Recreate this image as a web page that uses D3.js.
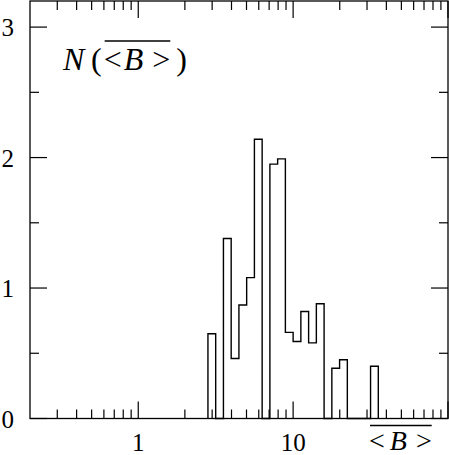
<!DOCTYPE html>
<html>
<head>
<meta charset="utf-8">
<script src="https://cdn.jsdelivr.net/npm/d3@7"></script>
<style>
  body { margin: 0; background: #fff; }
  svg text { font-family: "Liberation Serif", "DejaVu Serif", serif; fill: #000; }
</style>
</head>
<body>
<div id="chart"></div>
<script>
// histogram bins, edges in log10(<B>)
var logEdges = [0.45, 0.50, 0.55, 0.60, 0.65, 0.70, 0.75, 0.80, 0.85, 0.90, 0.95,
    1.00, 1.05, 1.10, 1.15, 1.20, 1.25, 1.30, 1.35, 1.40, 1.45, 1.50, 1.55];
var counts = [0.65, 0, 1.38, 0.46, 0.87, 1.08, 2.14, 0, 1.95, 1.99, 0.66,
    0.59, 0.82, 0.58, 0.88, 0, 0.385, 0.45, 0, 0, 0, 0.40];

var xMajor = [1, 10, 100];
var xMinor = [0.3, 0.4, 0.5, 0.6, 0.7, 0.8, 0.9, 2, 3, 4, 5, 6, 7, 8, 9,
    20, 30, 40, 50, 60, 70, 80, 90];
var xLabels = [1, 10];
var yMajor = [0, 1, 2, 3];
var yMinor = [0.5, 1.5, 2.5];

var width = 449;
var height = 455;
var mLeft = 30, mRight = 448, mTop = 1, mBottom = 418.5;
var majorLen = 17, minorLen = 9;

var svg = d3.select('#chart')
    .append('svg')
    .attr('width', width)
    .attr('height', height);

var x = d3.scaleLog()
    .domain([0.2, 100])
    .range([mLeft, mRight]);

var y = d3.scaleLinear()
    .domain([0, 3.2])
    .range([mBottom, mTop]);

// histogram outline
var pts = [[Math.pow(10, logEdges[0]), 0]];
counts.forEach(function (c, i) {
    pts.push([Math.pow(10, logEdges[i]), c]);
    pts.push([Math.pow(10, logEdges[i + 1]), c]);
});
pts.push([Math.pow(10, logEdges[logEdges.length - 1]), 0]);

var line = d3.line()
    .x(function (d) { return x(d[0]); })
    .y(function (d) { return y(d[1]); });

svg.append('path')
    .attr('d', line(pts))
    .attr('fill', 'none')
    .attr('stroke', '#000')
    .attr('stroke-width', 1.4);

// frame
svg.append('rect')
    .attr('x', mLeft)
    .attr('y', mTop)
    .attr('width', mRight - mLeft)
    .attr('height', mBottom - mTop)
    .attr('fill', 'none')
    .attr('stroke', '#000')
    .attr('stroke-width', 1.3);

var ticks = svg.append('g')
    .attr('stroke', '#000')
    .attr('stroke-width', 1.2);

function xTicks(vals, len) {
    vals.forEach(function (v) {
        ticks.append('line')
            .attr('x1', x(v)).attr('x2', x(v))
            .attr('y1', mBottom).attr('y2', mBottom - len);
        ticks.append('line')
            .attr('x1', x(v)).attr('x2', x(v))
            .attr('y1', mTop).attr('y2', mTop + len);
    });
}
function yTicks(vals, len) {
    vals.forEach(function (v) {
        ticks.append('line')
            .attr('x1', mLeft).attr('x2', mLeft + len)
            .attr('y1', y(v)).attr('y2', y(v));
        ticks.append('line')
            .attr('x1', mRight).attr('x2', mRight - len)
            .attr('y1', y(v)).attr('y2', y(v));
    });
}
xTicks(xMajor, majorLen);
xTicks(xMinor, minorLen);
yTicks(yMajor, majorLen);
yTicks(yMinor, minorLen);

// tick labels
svg.selectAll('.xlabel')
    .data(xLabels)
    .enter()
    .append('text')
    .attr('class', 'xlabel')
    .attr('x', function (d) { return x(d); })
    .attr('y', 451)
    .attr('text-anchor', 'middle')
    .style('font-size', '25px')
    .text(function (d) { return d; });

svg.selectAll('.ylabel')
    .data(yMajor)
    .enter()
    .append('text')
    .attr('class', 'ylabel')
    .attr('x', 14)
    .attr('y', function (d) { return y(d) + 9; })
    .attr('text-anchor', 'end')
    .style('font-size', '25px')
    .text(function (d) { return d; });

// glyph placed after a previous one, returns its bbox
function glyph(str, xPos, yPos, size, italic) {
    var t = svg.append('text')
        .attr('x', xPos)
        .attr('y', yPos)
        .style('font-size', size + 'px')
        .style('font-style', italic ? 'italic' : 'normal')
        .text(str);
    return t.node().getBBox();
}

// <B> with overline
function meanB(xPos, yPos, size, gap1, gap2, barUp) {
    var a = glyph('<', xPos, yPos, size, false);
    var b = glyph('B', a.x + a.width + gap1, yPos, size, true);
    var c = glyph('>', b.x + b.width + gap2, yPos, size, false);
    svg.append('line')
        .attr('x1', a.x + 1).attr('x2', c.x + c.width)
        .attr('y1', yPos - barUp).attr('y2', yPos - barUp)
        .attr('stroke', '#000')
        .attr('stroke-width', 1.3);
    return { x: a.x, width: c.x + c.width - a.x };
}

meanB(369, 450, 28, 5, 9, 24.5);

var n = glyph('N', 63, 70, 32, true);
var p = glyph('(', n.x + n.width + 5, 70, 32, false);
var bb = meanB(p.x + p.width + 2, 70, 32, 2, 9, 29);
glyph(')', bb.x + bb.width + 6, 70, 32, false);
</script>
</body>
</html>
